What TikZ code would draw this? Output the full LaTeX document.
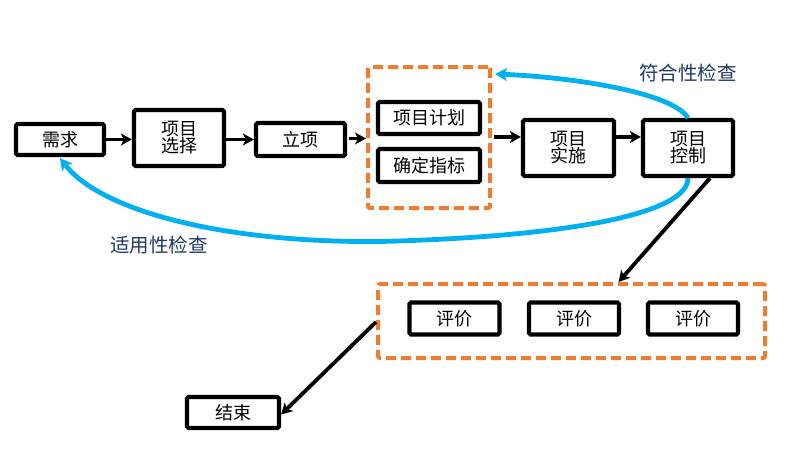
\documentclass[tikz,border=0pt]{standalone}
\usepackage{fontspec}
\setmainfont{Noto Sans CJK SC}
\usetikzlibrary{arrows.meta}
\definecolor{bluec}{RGB}{0,176,240}
\definecolor{orangec}{RGB}{237,125,49}
\definecolor{navyc}{RGB}{31,56,100}
\tikzset{
  box/.style={draw=black,line width=4.2pt,rounded corners=1.5pt,fill=white,inner sep=0pt,align=center,font=\fontsize{18}{20}\selectfont},
  grp/.style={draw=orangec,line width=4pt,dash pattern=on 10pt off 5pt,rounded corners=2pt,inner sep=0pt},
  flow/.style={line width=3.8pt,-{Stealth[length=11pt,width=12pt,inset=3pt]}},
  check/.style={draw=bluec,line width=4.8pt,-{Stealth[length=12pt,width=13pt,inset=3pt]}},
  lbl/.style={text=navyc,font=\fontsize{19.5}{22}\selectfont}
}
\begin{document}
\begin{tikzpicture}[x=1pt,y=-1pt]
\useasboundingbox (0,0) rectangle (792,463);
\fill[white] (0,0) rectangle (792,463);
% groups
\node[grp,minimum width=122pt,minimum height=141pt] (g1) at (429,137.5) {};
\node[grp,minimum width=387pt,minimum height=74pt] (g2) at (571.5,321) {};
% boxes
\node[box,minimum width=88pt,minimum height=31pt] (xq) at (60,139.5) {需求};
\node[box,minimum width=90pt,minimum height=56pt] (xz) at (179,138) {项目\\[-3pt]选择};
\node[box,minimum width=89pt,minimum height=33pt] (lx) at (300.5,139.5) {立项};
\node[box,minimum width=102pt,minimum height=32pt] (jh) at (429,118) {项目计划};
\node[box,minimum width=102pt,minimum height=33pt] (zb) at (429,165.5) {确定指标};
\node[box,minimum width=91pt,minimum height=56pt] (ss) at (568.5,148) {项目\\[-3pt]实施};
\node[box,minimum width=90pt,minimum height=56pt] (kz) at (688,148) {项目\\[-3pt]控制};
\node[box,minimum width=90pt,minimum height=32pt] (p1) at (454.5,318.5) {评价};
\node[box,minimum width=90pt,minimum height=32pt] (p2) at (574,318.5) {评价};
\node[box,minimum width=90pt,minimum height=32pt] (p3) at (693,318.5) {评价};
\node[box,minimum width=92pt,minimum height=31pt] (js) at (233,412.5) {结束};
% flow arrows
\draw[flow] (xq.east) -- (xz.west |- xq.east);
\draw[flow] (xz.east |- lx.west) -- (lx.west);
\draw[flow] (lx.east) ++(2,-1) coordinate (a1) -- (a1 -| g1.west);
\draw[flow] (g1.east |- ss.west) ++(2,-11) coordinate (a2) -- (a2 -| ss.west);
\draw[flow] (ss.east) ++(0,-11) coordinate (a3) -- (a3 -| kz.west);
% control to evaluations
\draw[flow] ([xshift=22pt]kz.south) -- ([xshift=47pt]g2.north);
\draw[flow] ([yshift=-1pt]g2.west) -- ([yshift=-2pt]js.east);
% check curves
\draw[check] (kz.north) .. controls (672,92) and (570,77) .. ([xshift=3pt,yshift=-9pt]g1.north east);
\draw[check] (kz.south) .. controls (688,215) and (560,237) .. (380,241.5)
  .. controls (220,243) and (100,210) .. ([yshift=-1pt]xq.south);
\node[lbl] (l1) at (688,73) {符合性检查};
\node[lbl] (l2) at (159,245) {适用性检查};
\end{tikzpicture}
\end{document}
